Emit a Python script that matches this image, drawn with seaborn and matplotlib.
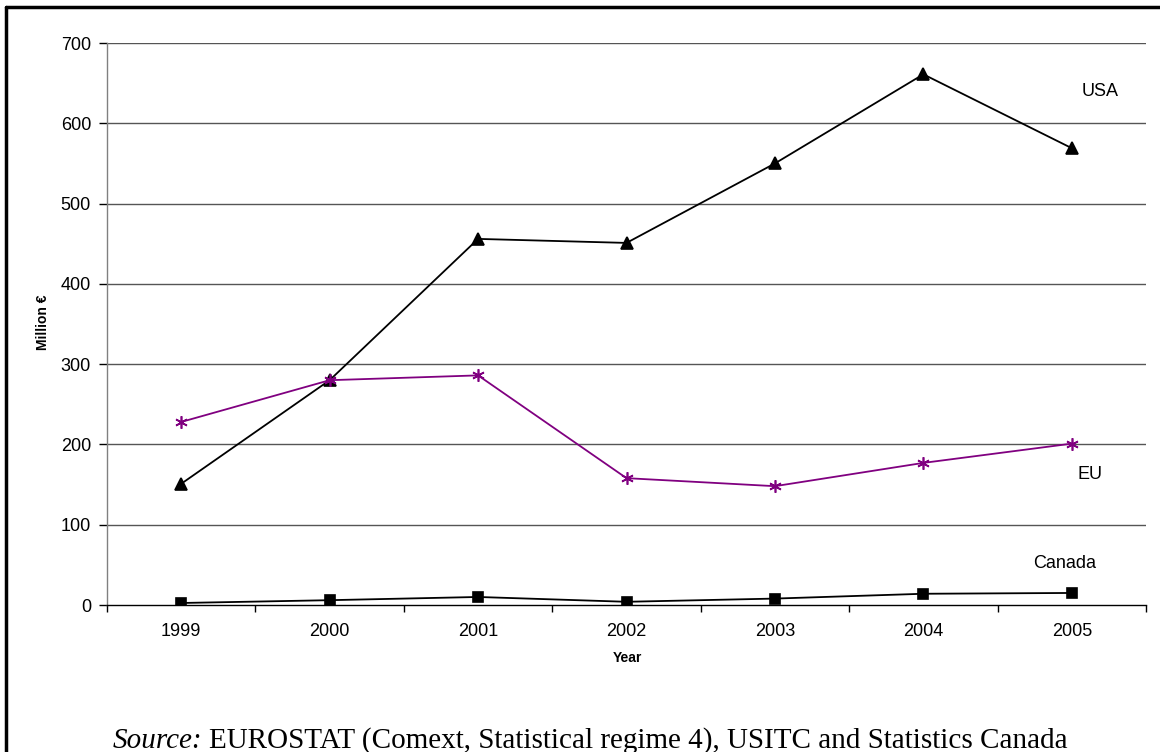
import matplotlib
matplotlib.use("Agg")
import matplotlib.pyplot as plt
import seaborn as sns
import pandas as pd
from matplotlib.lines import Line2D

years = ["1999", "2000", "2001", "2002", "2003", "2004", "2005"]
usa = [151, 280, 456, 451, 550, 661, 569]
eu = [228, 280, 286, 158, 148, 177, 201]
canada = [2.5, 6, 10, 4, 8, 14, 15]

sns.set_theme(style="white")
plt.rcParams['font.family'] = ['Liberation Sans', 'DejaVu Sans']
plt.rcParams['text.color'] = 'black'
plt.rcParams['axes.labelcolor'] = 'black'
plt.rcParams['xtick.color'] = 'black'
plt.rcParams['ytick.color'] = 'black'

W, H = 1160, 752
fig = plt.figure(figsize=(11.6, 7.52), dpi=100)
ax = fig.add_axes([107/W, 1-605/H, (1146-107)/W, (605-43)/H])

df = pd.DataFrame({"Year": years * 3,
                   "Value": usa + eu + canada,
                   "Series": ["USA"]*7 + ["EU"]*7 + ["Canada"]*7})

styles = {"USA": dict(color="black", marker="^", ms=8),
          "EU": dict(color="#800080", marker=(6, 2, 0), ms=9),
          "Canada": dict(color="black", marker="s", ms=6.5)}

for name in ["USA", "EU", "Canada"]:
    sub = df[df.Series == name]
    st = styles[name]
    sns.lineplot(data=sub, x="Year", y="Value", ax=ax, color=st["color"],
                 marker=st["marker"], markersize=st["ms"], markeredgecolor=st["color"],
                 markerfacecolor=st["color"], markeredgewidth=1.2, linewidth=1.3,
                 sort=False, legend=False, zorder=3)

ax.set_xlim(-0.5, 6.5)
ax.set_ylim(0, 700)
ax.set_yticks(range(0, 701, 100))
for yv in range(100, 701, 100):
    ax.axhline(yv, color="#555555", lw=1.0, zorder=1)

ax.set_xticks(range(len(years)))
ax.set_xticklabels(years)
ax.set_xticks([i - 0.5 for i in range(len(years) + 1)], minor=True)
ax.tick_params(axis="x", which="major", length=0, pad=13, labelsize=13, colors="black")
ax.tick_params(axis="x", which="minor", length=5, width=1, color="black", direction="out", bottom=True)
ax.tick_params(axis="y", which="major", length=6, width=1, color="black", direction="out",
               left=True, labelsize=13, pad=5.5, labelcolor="black")

for s in ["top", "right"]:
    ax.spines[s].set_visible(False)
ax.spines["left"].set_color("#808080")
ax.spines["left"].set_linewidth(1.0)
ax.spines["bottom"].set_color("black")
ax.spines["bottom"].set_linewidth(1.0)

ax.set_xlabel("Year", fontsize=10, fontweight="bold", color="black")
ax.set_ylabel("Million €", fontsize=10, fontweight="bold", color="black")
ax.xaxis.set_label_coords((627-107)/1039, (605-651)/562)
ax.yaxis.set_label_coords((50-107)/1039, (605-322)/562)

ax.text(6.19, 640, "USA", fontsize=13, ha="center", va="center", color="black")
ax.text(6.12, 163, "EU", fontsize=13, ha="center", va="center", color="black")
ax.text(5.95, 52, "Canada", fontsize=13, ha="center", va="center", color="black")

serif = ["Liberation Serif", "DejaVu Serif"]
t1 = fig.text(113/W, 1-748/H, "Source:", fontsize=21, style="italic",
              family=serif, ha="left", va="baseline", color="black")
fig.canvas.draw()
bb = t1.get_window_extent(renderer=fig.canvas.get_renderer())
fig.text((bb.x1 + 6)/W, 1-748/H, "EUROSTAT (Comext, Statistical regime 4), USITC and Statistics Canada",
         fontsize=21, family=serif, ha="left", va="baseline", color="black")

fig.add_artist(Line2D([6/W, 6/W], [0, 1-7/H], transform=fig.transFigure, color="black", lw=2.5))
fig.add_artist(Line2D([6/W, 1], [1-7/H, 1-7/H], transform=fig.transFigure, color="black", lw=2.5))

fig.savefig("out.png", dpi=100)
